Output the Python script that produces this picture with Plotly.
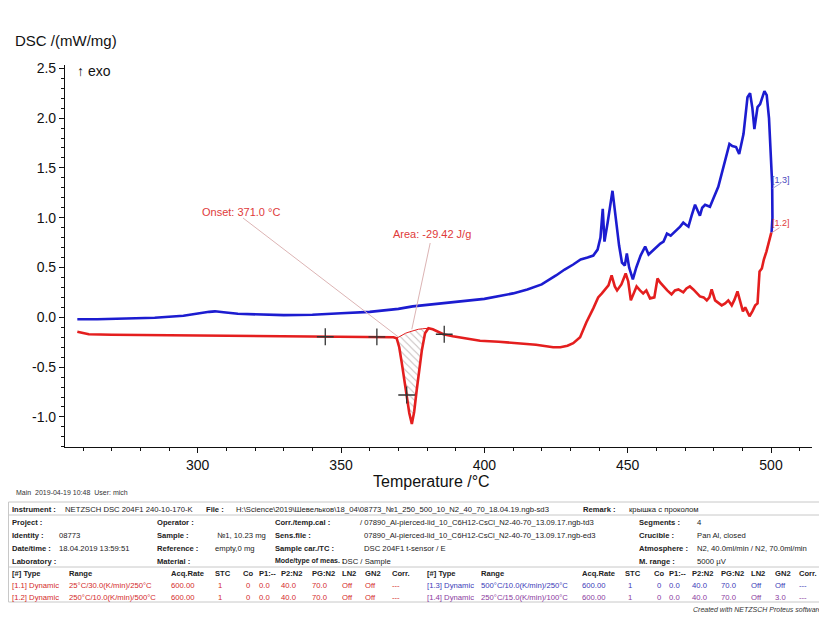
import plotly.graph_objects as go

# ---------------- data ----------------
red_T = [258, 262, 270, 280, 290, 300, 310, 320, 330, 340, 344.5, 350, 355, 362.5, 366, 368.3,
         369.4, 370.3, 371.2, 372.0, 372.9, 373.8, 374.7, 375.5, 376.4, 377.3, 378.2, 379.3, 380.5,
         382, 385.7, 389, 392.7, 398.5, 405, 412.5, 418, 424, 426.5, 429, 431, 433.4, 435.6, 438,
         439.7, 441, 442, 443.3, 444.4, 445.5, 446.3, 447.8, 449.3, 450.2, 451.1, 452, 453.1, 454.3,
         455.4, 456.5, 457.8, 459.3, 460.4, 461.3, 462.4, 463.8, 465.3, 466.5, 467.7, 469.4, 470.5,
         471.7, 472.9, 474, 475.2, 476.5, 477.6, 478.5, 479.3, 480.5, 481.5, 482.8, 484, 485.1,
         486.3, 487.3, 488.3, 489.3, 490.2, 491, 492.5, 493.5, 494.5, 495.3, 496, 496.8, 497.5,
         498.4, 499.2, 500.1]
red_dsc = [-0.145, -0.17, -0.175, -0.178, -0.18, -0.182, -0.185, -0.188, -0.19, -0.193, -0.195,
           -0.196, -0.196, -0.197, -0.198, -0.2,
           -0.21, -0.3, -0.46, -0.63, -0.8, -0.96, -1.07, -0.95, -0.73, -0.52, -0.33, -0.16, -0.11,
           -0.12, -0.17, -0.19, -0.21, -0.235, -0.245, -0.26, -0.275, -0.3, -0.3, -0.285, -0.26,
           -0.2, -0.05, 0.09,
           0.2, 0.24, 0.28, 0.32, 0.42, 0.31, 0.27, 0.33, 0.44, 0.36, 0.17, 0.24, 0.31, 0.27,
           0.24, 0.27, 0.19, 0.2, 0.39, 0.35, 0.31, 0.27, 0.23, 0.27, 0.28, 0.25, 0.29,
           0.31, 0.28, 0.25, 0.21, 0.2, 0.17, 0.2, 0.28, 0.17, 0.15, 0.12, 0.14, 0.17,
           0.12, 0.18, 0.26, 0.16, 0.06, 0.1, 0.01, 0.06, 0.12, 0.14, 0.46, 0.49, 0.58,
           0.66, 0.76, 0.85]

# cooling segment [1.3], in time order (from 500 °C downwards)
blue_T = [500.2, 500.5, 500.4, 499.9, 499.3, 498.5, 497.7, 496.2, 495.3, 494.2, 493.5, 492.7,
          491.8, 490.4, 488.9, 487.8, 486.5, 485.5, 483.4, 481.6, 480, 478.7, 477, 476, 475.2,
          474.3, 473.5, 472.3, 471.2, 470.3, 469.4, 468.3, 466.5, 465, 463.7, 462.5, 461.4, 459,
          457.3, 456.1, 454.5, 453, 451.8, 450.5, 449.7, 449, 448, 447, 446, 444.7, 443, 441.9,
          441.3, 440.5, 439.5, 438, 436, 433.6, 431, 428, 425, 420, 415, 410, 400, 390, 380, 375,
          370, 360, 350, 340, 330, 322, 314, 309, 306, 304, 300, 295, 285, 275, 265, 258]
blue_dsc = [0.85, 1.0, 1.34, 1.71, 2.0, 2.23, 2.27, 2.14, 2.11, 1.89, 2.1, 2.25,
            2.21, 1.84, 1.64, 1.71, 1.72, 1.74, 1.51, 1.31, 1.2, 1.11, 1.13, 1.1, 1.02,
            1.07, 1.13, 1.02, 0.91, 0.93, 0.95, 0.91, 0.86, 0.82, 0.84, 0.76, 0.74, 0.67,
            0.63, 0.71, 0.62, 0.5, 0.38, 0.5, 0.64, 0.52, 0.55, 0.72, 0.95, 1.27, 0.95, 0.76,
            1.09, 0.8, 0.68, 0.62, 0.6, 0.58, 0.53, 0.48, 0.42, 0.33, 0.28, 0.24, 0.185, 0.155,
            0.13, 0.11, 0.085, 0.055, 0.04, 0.025, 0.022, 0.025, 0.035, 0.05, 0.06, 0.055, 0.035,
            0.015, -0.005, -0.015, -0.02, -0.02]

# peak evaluation: virtual baseline under the peak and evaluation marks
base_T = [369.4, 371, 372.5, 374, 375.5, 377, 378.5, 380.5]
base_dsc = [-0.21, -0.18, -0.16, -0.145, -0.13, -0.12, -0.115, -0.11]
mark_T = [344.5, 362.5, 386.0, 372.9]
mark_dsc = [-0.195, -0.197, -0.17, -0.78]

x_ticks = [300, 350, 400, 450, 500]
y_ticks = [-1.0, -0.5, 0.0, 0.5, 1.0, 1.5, 2.0, 2.5]

RED = "#e41e1e"
BLUE = "#1c1cd0"
FONT = "Liberation Sans, Arial, sans-serif"

# ---------------- geometry helpers (page pixels; page body has 8px margin) ----------------
OFF = 8
FIG_W, FIG_H = 827 - OFF, 620 - OFF
L, R, T_, B = 65, 812, 65, 447          # plot area in page pixels
W, H = R - L, B - T_


def P(px, py):
    return (px - L) / W, (B - py) / H


fig = go.Figure()

# hatched peak area (between baseline and curve)
i0 = red_T.index(369.4)
i1 = red_T.index(380.5)
poly_T = base_T + red_T[i0:i1 + 1][::-1]
poly_y = base_dsc + red_dsc[i0:i1 + 1][::-1]
fig.add_trace(go.Scatter(x=poly_T, y=poly_y, mode="lines", fill="toself",
                         line=dict(width=0), fillcolor="rgba(255,255,255,0)",
                         fillpattern=dict(shape="\\", fgcolor="#8a7a7a", bgcolor="rgba(255,255,255,0)",
                                          size=5, solidity=0.2),
                         hoverinfo="skip", showlegend=False))
fig.add_trace(go.Scatter(x=base_T, y=base_dsc, mode="lines",
                         line=dict(color=RED, width=1), showlegend=False))

fig.add_trace(go.Scatter(x=blue_T, y=blue_dsc, mode="lines",
                         line=dict(color=BLUE, width=2.6), showlegend=False))
fig.add_trace(go.Scatter(x=red_T, y=red_dsc, mode="lines",
                         line=dict(color=RED, width=2.6), showlegend=False))
fig.add_trace(go.Scatter(x=mark_T, y=mark_dsc, mode="markers",
                         marker=dict(symbol="cross-thin", size=12, line=dict(color="#333", width=1.3)),
                         showlegend=False))

shapes = []
# leader lines
shapes.append(dict(type="line", xref="x", yref="y", x0=315.8, y0=0.997, x1=369.9, y1=-0.195,
                   line=dict(color="#dcb4b4", width=1)))
shapes.append(dict(type="line", xref="x", yref="y", x0=381.1, y0=0.746, x1=374.7, y1=-0.12,
                   line=dict(color="#dcb4b4", width=1)))
shapes.append(dict(type="line", xref="x", yref="y", x0=500.6, y0=1.295, x1=503.4, y1=1.345,
                   line=dict(color="#a0a0d8", width=1)))
shapes.append(dict(type="line", xref="x", yref="y", x0=500.3, y0=0.85, x1=503.0, y1=0.90,
                   line=dict(color="#e0a0a0", width=1)))


def hline(py, x0=8.5, x1=826, color="#c8c8c8"):
    a, b = P(x0, py)
    c, _ = P(x1, py)
    shapes.append(dict(type="line", xref="paper", yref="paper", x0=a, y0=b, x1=c, y1=b,
                       line=dict(color=color, width=1)))


def vline(px, y0, y1, color="#c8c8c8"):
    a, b = P(px, y0)
    _, d = P(px, y1)
    shapes.append(dict(type="line", xref="paper", yref="paper", x0=a, y0=b, x1=a, y1=d,
                       line=dict(color=color, width=1)))


hline(502)
hline(515)
hline(567)
hline(602)
vline(8.5, 502, 602)
vline(826, 502, 602)

ann = []
TS = 7.7  # regular table text size
BS = 7.6  # bold label size


def txt(px, py, s, size=TS, color="#222", anchor="left", bold=False, italic=False):
    x, y = P(px, py)
    if bold:
        s = "<b>" + s + "</b>"
    if italic:
        s = "<i>" + s + "</i>"
    ann.append(dict(x=x, y=y, xref="paper", yref="paper", text=s, showarrow=False,
                    xanchor=anchor, yanchor="middle", font=dict(family=FONT, size=size, color=color)))


# axis titles and labels
txt(13, 40, "DSC /(mW/mg)", size=15, color="#111")
txt(75, 71, "↑ exo", size=14, color="#111")
txt(431, 481, "Temperature /°C", size=16, color="#111", anchor="center")
txt(14, 492, "Main  2019-04-19 10:48  User: mich", size=7, color="#333")

# chart annotations (data coords)
ann.append(dict(x=315.2, y=1.057, xref="x", yref="y", text="Onset: 371.0 °C", showarrow=False,
                font=dict(family=FONT, size=11, color="#e03a3a")))
ann.append(dict(x=381.6, y=0.84, xref="x", yref="y", text="Area: -29.42 J/g", showarrow=False,
                font=dict(family=FONT, size=11, color="#e03a3a")))
ann.append(dict(x=503.6, y=1.378, xref="x", yref="y", text="[1.3]", showarrow=False,
                font=dict(family=FONT, size=9, color="#4a4ac0")))
ann.append(dict(x=503.6, y=0.947, xref="x", yref="y", text="[1.2]", showarrow=False,
                font=dict(family=FONT, size=9, color="#e03a3a")))

# ---- info table ----
r1, r2, r3, r4, r5, rh, ra, rb, rc = 509, 522, 535, 548, 561, 573, 585, 597, 609
txt(10, r1, "Instrument :", bold=True, size=BS)
txt(63, r1, "NETZSCH DSC 204F1 240-10-170-K")
txt(204, r1, "File :", bold=True, size=BS)
txt(234, r1, "H:\\Science\\2019\\Шевельков\\18_04\\08773_№1_250_500_10_N2_40_70_18.04.19.ngb-sd3")
txt(581, r1, "Remark :", bold=True, size=BS)
txt(627, r1, "крышка с проколом")

txt(10, r2, "Project :", bold=True, size=BS)
txt(155, r2, "Operator :", bold=True, size=BS)
txt(273, r2, "Corr./temp.cal :", bold=True, size=BS)
txt(358, r2, "/ 07890_Al-pierced-lid_10_C6H12-CsCl_N2-40-70_13.09.17.ngb-td3")
txt(637, r2, "Segments :", bold=True, size=BS)
txt(695, r2, "4")

txt(10, r3, "Identity :", bold=True, size=BS)
txt(57, r3, "08773")
txt(155, r3, "Sample :", bold=True, size=BS)
txt(215, r3, "№1, 10.23 mg")
txt(273, r3, "Sens.file :", bold=True, size=BS)
txt(362, r3, "07890_Al-pierced-lid_10_C6H12-CsCl_N2-40-70_13.09.17.ngb-ed3")
txt(637, r3, "Crucible :", bold=True, size=BS)
txt(695, r3, "Pan Al, closed")

txt(10, r4, "Date/time :", bold=True, size=BS)
txt(57, r4, "18.04.2019 13:59:51")
txt(155, r4, "Reference :", bold=True, size=BS)
txt(213, r4, "empty,0 mg")
txt(273, r4, "Sample car./TC :", bold=True, size=BS)
txt(362, r4, "DSC 204F1 t-sensor / E")
txt(637, r4, "Atmosphere :", bold=True, size=BS)
txt(695, r4, "N2, 40.0ml/min / N2, 70.0ml/min")

txt(10, r5, "Laboratory :", bold=True, size=BS)
txt(155, r5, "Material :", bold=True, size=BS)
txt(273, r5, "Mode/type of meas. :", bold=True, size=7)
txt(340, r5, "DSC / Sample")
txt(637, r5, "M. range :", bold=True, size=BS)
txt(695, r5, "5000 µV")

head = ["[#] Type", "Range", "Acq.Rate", "STC", "Co", "P1:--", "P2:N2", "PG:N2", "LN2", "GN2", "Corr."]
colL = [10, 67, 169, 213, 241, 257, 279, 310, 340, 363, 390]
colR = [425, 479, 580, 623, 652, 667, 690, 719, 749, 773, 797]
rowsL = [["[1.1] Dynamic", "25°C/30.0(K/min)/250°C", "600.00", "1", "0", "0.0", "40.0", "70.0", "Off", "Off", "---"],
         ["[1.2] Dynamic", "250°C/10.0(K/min)/500°C", "600.00", "1", "0", "0.0", "40.0", "70.0", "Off", "Off", "---"]]
rowsR = [["[1.3] Dynamic", "500°C/10.0(K/min)/250°C", "600.00", "1", "0", "0.0", "40.0", "70.0", "Off", "Off", "---"],
         ["[1.4] Dynamic", "250°C/15.0(K/min)/100°C", "600.00", "1", "0", "0.0", "40.0", "70.0", "Off", "3.0", "---"]]
for h, cx in zip(head, colL):
    txt(cx, rh, h, bold=True, size=BS)
for h, cx in zip(head, colR):
    txt(cx, rh, h, bold=True, size=BS)
for row, ry, colr in zip(rowsL, [ra, rb], ["#d42a2a", "#d42a2a"]):
    for v, cx in zip(row, colL):
        txt(cx + (3 if v in ("1", "0") else 0), ry, v, color=colr)
for row, ry, colr in zip(rowsR, [ra, rb], ["#3a3ab8", "#8a3a9e"]):
    for v, cx in zip(row, colR):
        txt(cx + (3 if v in ("1", "0") else 0), ry, v, color=colr)
txt(824, rc, "Created with NETZSCH Proteus software", size=7, color="#333", anchor="right", italic=True)

fig.update_layout(
    width=FIG_W, height=FIG_H,
    margin=dict(l=L - OFF, r=FIG_W - (R - OFF), t=T_ - OFF, b=FIG_H - (B - OFF), pad=0),
    paper_bgcolor="white", plot_bgcolor="white",
    showlegend=False,
    shapes=shapes, annotations=ann,
    font=dict(family=FONT, color="#111"),
)
fig.update_xaxes(range=[253.7, 514.3], tickvals=x_ticks, ticktext=[str(v) for v in x_ticks],
                 showgrid=False, zeroline=False, showline=True, linecolor="#111", linewidth=1.2,
                 ticks="outside", ticklen=5, tickcolor="#111", tickfont=dict(size=14, family=FONT),
                 minor=dict(ticks="outside", ticklen=3, dtick=10, tick0=300, tickcolor="#111"))
fig.update_yaxes(range=[-1.302, 2.533], tickvals=y_ticks, ticktext=[f"{v:.1f}" for v in y_ticks],
                 showgrid=False, zeroline=False, showline=True, linecolor="#111", linewidth=1.2,
                 ticks="outside", ticklen=5, tickcolor="#111", tickfont=dict(size=14, family=FONT),
                 minor=dict(ticks="outside", ticklen=3, dtick=0.1, tick0=0, tickcolor="#111"))

fig.write_html("out.html")
